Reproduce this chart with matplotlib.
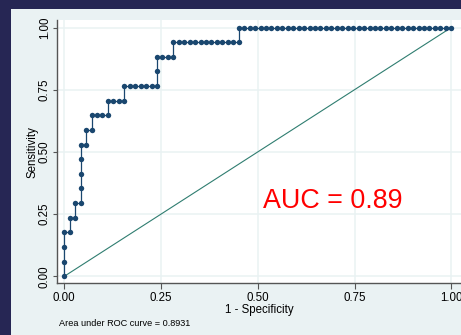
import matplotlib
matplotlib.use("Agg")
import matplotlib.pyplot as plt
from matplotlib.patches import Rectangle

plt.rcParams["font.family"] = ["Liberation Sans", "DejaVu Sans"]

# ROC points: false positive counts (of 71 negatives)
# and true positive counts (of 17 positives)
n_neg = 71
n_pos = 17
fp_count = [0, 0, 0, 0, 1, 1, 2, 2, 3, 3, 3, 3, 3, 4, 4, 5, 5, 6, 7, 8,
            8, 9, 10, 11, 11, 12, 13, 14, 15, 16, 17, 17, 17, 18, 19, 20,
            20, 21, 22, 23, 24, 25, 26, 27, 28, 29, 30, 31, 32,
            32, 33, 34, 35, 36, 37, 38, 39, 40, 41, 42, 43, 44, 45, 46, 47,
            48, 49, 50, 51, 52, 53, 54, 55, 56, 57, 58, 59, 60, 61, 62, 63,
            64, 65, 66, 67, 68, 69, 70, 71]
tp_count = [0, 1, 2, 3, 3, 4, 4, 5, 5, 6, 7, 8, 9, 9, 10, 10, 11, 11, 11, 11,
            12, 12, 12, 12, 13, 13, 13, 13, 13, 13, 13, 14, 15, 15, 15, 15,
            16, 16, 16, 16, 16, 16, 16, 16, 16, 16, 16, 16, 16,
            17, 17, 17, 17, 17, 17, 17, 17, 17, 17, 17, 17, 17, 17, 17, 17,
            17, 17, 17, 17, 17, 17, 17, 17, 17, 17, 17, 17, 17, 17, 17, 17,
            17, 17, 17, 17, 17, 17, 17, 17]
ticks = [0.0, 0.25, 0.5, 0.75, 1.0]
tick_labels = ["0.00", "0.25", "0.50", "0.75", "1.00"]
auc_full = 0.8931
auc_label = "AUC = 0.89"

fpr = [v / n_neg for v in fp_count]
tpr = [v / n_pos for v in tp_count]

navy = "#1a476f"
bluishgray = "#eaf2f3"

W, H = 461, 335
fig = plt.figure(figsize=(W / 100, H / 100), dpi=100)
fig.patch.set_facecolor("#262654")
fig.patches.append(Rectangle((11 / W, 0), 1 - 11 / W, 326 / H,
                             transform=fig.transFigure, facecolor=bluishgray,
                             edgecolor="none", zorder=-10))

ax = fig.add_axes([57 / W, (H - 283.3) / H, (W - 57) / W, (283.3 - 20) / H])
ax.set_facecolor("white")
ax.set_xlim(-7.3 / 387, (W - 64.3) / 387)
ax.set_ylim(-7 / 248.8, 256.3 / 248.8)

for t in ticks:
    ax.axhline(t, color=bluishgray, lw=1.1, zorder=1)
    ax.axvline(t, color=bluishgray, lw=1.1, zorder=1)

ax.plot([0, 1], [0, 1], color="#2f7d70", lw=0.8, zorder=2)
ax.plot(fpr, tpr, color=navy, lw=0.9, marker="o", markersize=3.9,
        markeredgewidth=0, zorder=3)

ax.text(0.5127, 0.2745, auc_label, color="red", fontsize=19.4,
        ha="left", va="baseline")

ax.spines["top"].set_visible(False)
ax.spines["right"].set_visible(False)
for s in ("left", "bottom"):
    ax.spines[s].set_color("#555555")
    ax.spines[s].set_linewidth(1.0)

ax.set_xticks(ticks)
ax.set_xticklabels(tick_labels)
ax.set_yticks(ticks)
ax.set_yticklabels(tick_labels, rotation=90, va="center")
ax.tick_params(axis="both", colors="#555555", labelcolor="black",
               labelsize=8.3, width=0.8)
ax.tick_params(axis="x", length=4, pad=2)
ax.tick_params(axis="y", length=3, pad=1.5)

ax.set_xlabel("1 - Specificity", fontsize=8.3, labelpad=0)
ax.set_ylabel("Sensitivity", fontsize=8.3, labelpad=0)

fig.text(59 / W, (H - 323) / H, f"Area under ROC curve = {auc_full:.4f}",
         fontsize=6.6, ha="left", va="center")

fig.savefig("out.png", dpi=100, facecolor=fig.get_facecolor())
